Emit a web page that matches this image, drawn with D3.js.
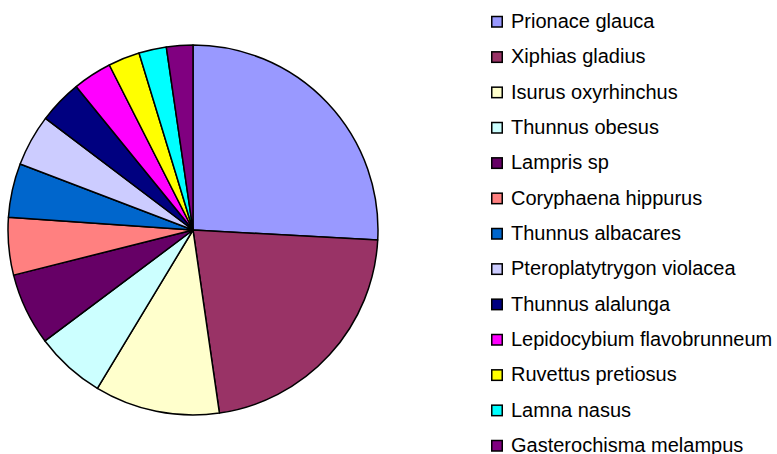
<!DOCTYPE html>
<html>
<head>
<meta charset="utf-8">
<script src="https://cdn.jsdelivr.net/npm/d3@7"></script>
<style>
  body { margin: 0; background: #fff; }
  svg text { font-family: "Liberation Sans", Arial, sans-serif; }
</style>
</head>
<body>
<svg id="chart" width="777" height="454"></svg>
<script>
const species = [
  "Prionace glauca", "Xiphias gladius", "Isurus oxyrhinchus", "Thunnus obesus",
  "Lampris sp", "Coryphaena hippurus", "Thunnus albacares", "Pteroplatytrygon violacea",
  "Thunnus alalunga", "Lepidocybium flavobrunneum", "Ruvettus pretiosus",
  "Lamna nasus", "Gasterochisma melampus"
];
const shares = [25.8, 21.8, 10.9, 6.1, 6.3, 5.0, 4.7, 4.5, 3.8, 3.4, 2.75, 2.4, 2.3];
const colors = [
  "#9999FF", "#993366", "#FFFFCC", "#CCFFFF", "#660066", "#FF8080", "#0066CC",
  "#CCCCFF", "#000080", "#FF00FF", "#FFFF00", "#00FFFF", "#800080"
];

const svg = d3.select("#chart");
const cx = 193, cy = 230, radius = 185;

const pie = d3.pie().sort(null).value(d => d.value);
const arc = d3.arc().innerRadius(0).outerRadius(radius);
const color = d3.scaleOrdinal().domain(species).range(colors);

const data = species.map((name, i) => ({ name, value: shares[i] }));

svg.append("g")
  .attr("transform", `translate(${cx},${cy})`)
  .selectAll("path")
  .data(pie(data))
  .enter().append("path")
  .attr("d", arc)
  .attr("fill", d => color(d.data.name))
  .attr("stroke", "#000")
  .attr("stroke-width", 1.5)
  .attr("stroke-linejoin", "round");

// legend
const rowY = d3.scalePoint().domain(species).range([22, 446]);

const legend = svg.append("g")
  .selectAll("g")
  .data(species)
  .enter().append("g")
  .attr("transform", d => `translate(491,${rowY(d)})`);

legend.append("rect")
  .attr("x", 0.75).attr("y", -5.5)
  .attr("width", 10.5).attr("height", 10.5)
  .attr("fill", d => color(d))
  .attr("stroke", "#000")
  .attr("stroke-width", 1.5);

legend.append("text")
  .attr("x", 20)
  .attr("y", 6)
  .attr("font-size", 20)
  .attr("fill", "#000")
  .text(d => d);
</script>
</body>
</html>
